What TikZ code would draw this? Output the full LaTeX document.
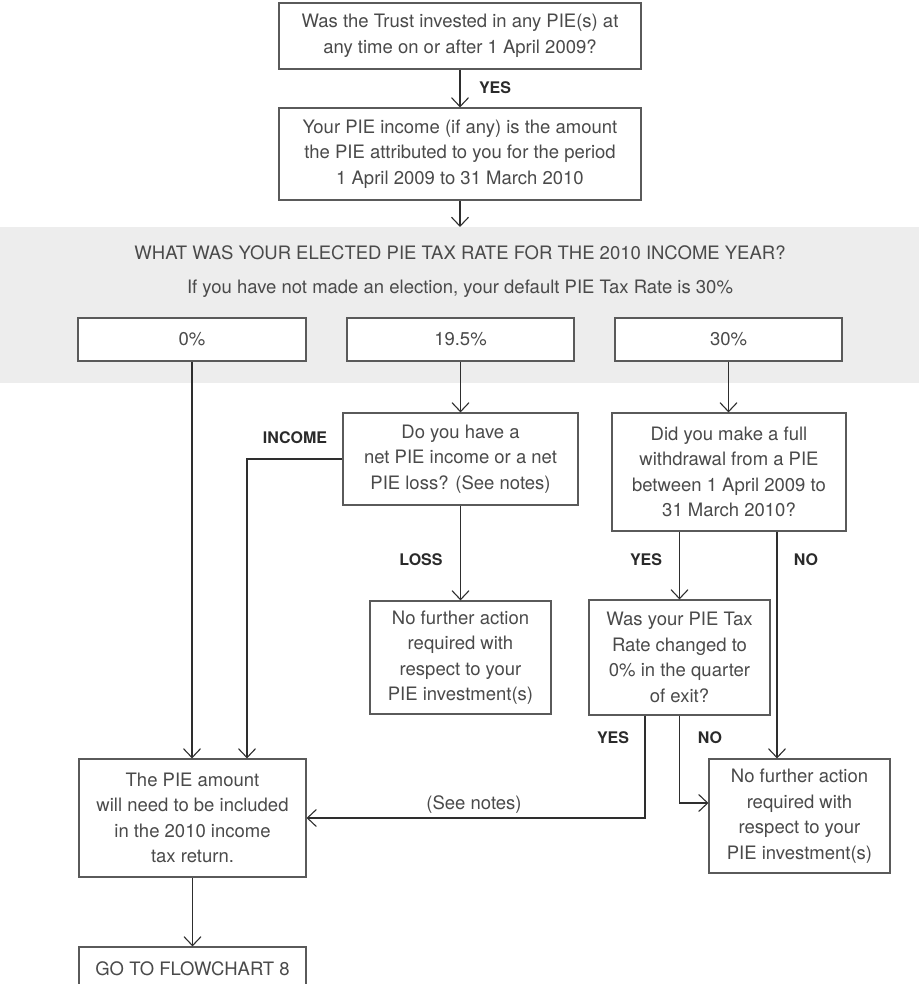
\documentclass[tikz,border=0pt]{standalone}
\usepackage{fontspec}
\setmainfont{TeX Gyre Heros}
\usetikzlibrary{arrows.meta}
\definecolor{band}{HTML}{EDEDED}
\definecolor{boxline}{HTML}{5A5A5A}
\definecolor{boxtext}{HTML}{4A4A4A}
\definecolor{wirecol}{HTML}{2E2E2E}
\definecolor{lblcol}{HTML}{2A2A2A}

\begin{document}
\begin{tikzpicture}[x=1pt,y=-1pt,
  box/.style={draw=boxline, line width=1.1pt, fill=white, align=center,
    inner sep=0pt, font=\fontsize{18.5}{25.5}\selectfont, text=boxtext},
  wire/.style={draw=wirecol, line width=1.1pt},
  arr/.style={wire, -{Straight Barb[length=9pt,width=17pt,line width=1.1pt]}},
  lbl/.style={font=\fontsize{16}{18}\selectfont\bfseries, text=lblcol},
  note/.style={font=\fontsize{18.5}{25.5}\selectfont, text=boxtext}]

\path[use as bounding box] (0,0) rectangle (919,984);
\clip (0,0) rectangle (919,984);

% grey band holding the tax-rate question
\fill[band] (0,227) rectangle (919,383);
\node[note] (title) at (460,253) {WHAT WAS YOUR ELECTED PIE TAX RATE FOR THE 2010 INCOME YEAR?};
\node[note] (subtitle) at (460,289) {If you have not made an election, your default PIE Tax Rate is 30\%};
\coordinate (bandtop) at (460,227);

% boxes
\node[box, minimum width=362pt, minimum height=66pt] (q1) at (460,36)
  {Was the Trust invested in any PIE(s) at\\any time on or after 1 April 2009?};
\node[box, minimum width=362pt, minimum height=92pt] (q2) at (460,154)
  {Your PIE income (if any) is the amount\\the PIE attributed to you for the period\\1 April 2009 to 31 March 2010};

\node[box, minimum width=228pt, minimum height=43pt] (zero) at (192,339.5) {0\%};
\node[box, minimum width=227pt, minimum height=43pt] (mid) at (460.5,339.5) {19.5\%};
\node[box, minimum width=227pt, minimum height=43pt] (thirty) at (728.5,339.5) {30\%};

\node[box, minimum width=235pt, minimum height=92pt] (doyou) at (460.5,459)
  {Do you have a\\net PIE income or a net\\PIE loss? (See notes)};
\node[box, minimum width=234pt, minimum height=118pt] (didyou) at (729,472)
  {Did you make a full\\withdrawal from a PIE\\between 1 April 2009 to\\31 March 2010?};

\node[box, minimum width=181pt, minimum height=113pt] (nfm) at (460.5,657.5)
  {No further action\\required with\\respect to your\\PIE investment(s)};
\node[box, minimum width=181pt, minimum height=115pt] (wasyour) at (679.5,657.5)
  {Was your PIE Tax\\Rate changed to\\0\% in the quarter\\of exit?};
\node[box, minimum width=181pt, minimum height=114pt] (nfr) at (799.5,816)
  {No further action\\required with\\respect to your\\PIE investment(s)};

\node[box, minimum width=227pt, minimum height=118pt] (pie) at (192.5,818)
  {The PIE amount\\will need to be included\\in the 2010 income\\tax return.};
\node[box, minimum width=227pt, minimum height=43pt] (goto) at (192.5,968.5)
  {GO TO FLOWCHART 8};

% connectors
\draw[arr] (q1.south) -- (q2.north);
\node[lbl] (yes1) at (495,88) {YES};
\draw[arr] (q2.south) -- (bandtop);

\draw[arr] (mid.south) -- (mid.south |- doyou.north);
\draw[arr] (thirty.south) -- (thirty.south |- didyou.north);
\draw[arr] (zero.south) -- (zero.south |- pie.north);

\draw[arr] (doyou.west) -| (pie.north -| 247,0);
\node[lbl] (income) at (295,438) {INCOME};
\draw[arr] (doyou.south) -- (doyou.south |- nfm.north);
\node[lbl] (loss) at (421,560) {LOSS};

\draw[arr] (didyou.south -| wasyour.north) -- (wasyour.north);
\node[lbl] (yes2) at (646,560) {YES};
\draw[arr] (didyou.south -| 777,0) -- (nfr.north -| 777,0);
\node[lbl] (no1) at (806,560) {NO};

\draw[arr] (wasyour.south -| 645,0) |- (pie.east);
\node[lbl] (yes3) at (613,738) {YES};
\node[note] (seenotes) at (474,805) {(See notes)};
\draw[arr] (wasyour.south) |- (nfr.west |- 0,803);
\node[lbl] (no2) at (710,738) {NO};

\draw[arr] (pie.south) -- (goto.north);
\end{tikzpicture}
\end{document}
